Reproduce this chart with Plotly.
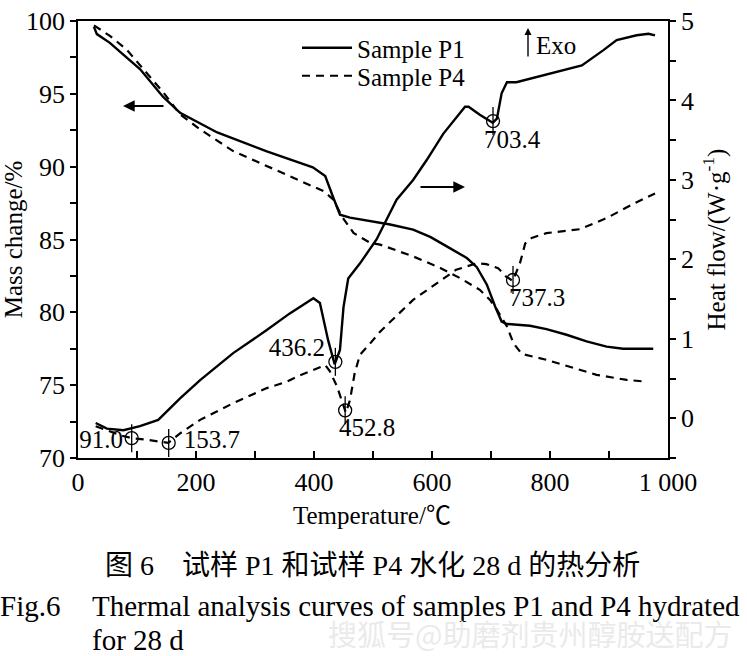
import plotly.graph_objects as go

# ---- data ----
t_p1_mass = [27, 32, 54, 105, 144, 173, 236, 320, 398, 419, 432, 444, 461, 512, 529, 568, 597, 625, 659, 676, 693, 707, 718, 727, 766, 794, 828, 862, 896, 924, 975]
mass_p1 = [99.6, 99.1, 98.5, 96.7, 94.8, 93.7, 92.35, 91.05, 89.95, 89.35, 87.95, 86.7, 86.5, 86.15, 86.03, 85.68, 85.18, 84.53, 83.73, 83.1, 81.9, 80.4, 79.37, 79.2, 79.08, 78.85, 78.46, 78.0, 77.65, 77.5, 77.5]

t_p4_mass = [27, 54, 82, 111, 145, 173, 207, 263, 320, 376, 416, 433, 447, 467, 495, 512, 568, 614, 647, 681, 698, 710, 727, 738, 752, 794, 840, 879, 930, 961]
mass_p4 = [99.7, 98.98, 98.06, 96.68, 95.08, 93.59, 92.56, 91.07, 90.03, 89.0, 88.32, 87.74, 86.6, 85.45, 84.77, 84.65, 83.84, 83.05, 82.36, 81.55, 80.87, 80.18, 79.03, 77.89, 77.15, 76.74, 76.17, 75.71, 75.36, 75.25]

t_p1_hf = [30, 49, 77, 105, 136, 173, 207, 263, 320, 359, 399, 410, 424, 435, 444, 450, 458, 478, 506, 540, 568, 591, 619, 656, 662, 681, 703, 710, 718, 727, 743, 799, 854, 890, 913, 947, 967, 978]
hf_p1 = [-0.06, -0.13, -0.15, -0.1, -0.02, 0.25, 0.48, 0.82, 1.11, 1.32, 1.51, 1.45, 0.98, 0.68, 0.86, 1.40, 1.76, 1.95, 2.25, 2.75, 3.0, 3.25, 3.58, 3.92, 3.92, 3.82, 3.72, 3.77, 4.09, 4.23, 4.23, 4.34, 4.44, 4.63, 4.76, 4.82, 4.84, 4.82]

t_p4_hf = [30, 55, 75, 91, 116, 153, 173, 207, 263, 320, 354, 376, 419, 427, 439, 454, 461, 469, 478, 495, 512, 568, 608, 641, 676, 692, 712, 726, 737, 749, 758, 769, 794, 851, 896, 947, 978]
hf_p4 = [-0.1, -0.17, -0.22, -0.25, -0.27, -0.31, -0.19, -0.02, 0.19, 0.38, 0.46, 0.54, 0.67, 0.59, 0.40, 0.07, 0.23, 0.57, 0.80, 0.94, 1.09, 1.49, 1.70, 1.87, 1.95, 1.94, 1.89, 1.78, 1.73, 1.95, 2.20, 2.27, 2.33, 2.38, 2.52, 2.72, 2.83]

peak_t = [91.0, 153.7, 436.2, 452.8, 703.4, 737.3]
peak_hf = [-0.25, -0.31, 0.71, 0.10, 3.74, 1.74]
peak_labels = ["91.0", "153.7", "436.2", "452.8", "703.4", "737.3"]
label_t = [39, 227, 371, 490, 736, 778]
label_hf = [-0.30, -0.30, 0.86, -0.14, 3.48, 1.49]

x_tickvals = [0, 200, 400, 600, 800, 1000]
x_ticktext = ["0", "200", "400", "600", "800", "1 000"]

FONT = "Liberation Serif, Noto Sans CJK SC, serif"
DASH = "8px,6px"

# plot-area geometry in pixels (used only to place paper-referenced text)
L, R, T, B = 78, 668, 21, 458
def px(xp):
    return (xp - L) / (R - L)
def py(yp):
    return (B - yp) / (B - T)

fig = go.Figure()
fig.add_trace(go.Scatter(x=t_p1_mass, y=mass_p1, mode="lines", name="Sample P1", legend="legend",
                         line=dict(color="black", width=2.4), yaxis="y"))
fig.add_trace(go.Scatter(x=t_p4_mass, y=mass_p4, mode="lines", name="Sample P4", legend="legend2",
                         line=dict(color="black", width=2.2, dash=DASH), yaxis="y"))
fig.add_trace(go.Scatter(x=t_p1_hf, y=hf_p1, mode="lines", showlegend=False,
                         line=dict(color="black", width=2.4), yaxis="y2"))
fig.add_trace(go.Scatter(x=t_p4_hf, y=hf_p4, mode="lines", showlegend=False,
                         line=dict(color="black", width=2.2, dash=DASH), yaxis="y2"))
fig.add_trace(go.Scatter(x=peak_t, y=peak_hf, mode="markers", showlegend=False, yaxis="y2",
                         marker=dict(symbol="circle-open", size=13, color="black", line=dict(width=1.3))))
fig.add_trace(go.Scatter(x=peak_t, y=peak_hf, mode="markers", showlegend=False, yaxis="y2",
                         marker=dict(symbol="line-ns-open", size=20, color="black", line=dict(width=1.3))))
fig.add_trace(go.Scatter(x=label_t, y=label_hf, mode="text", text=peak_labels, showlegend=False,
                         yaxis="y2", textfont=dict(family=FONT, size=25, color="black")))

ann = []
# direction arrows
ann.append(dict(xref="paper", yref="paper", x=px(123), y=py(106), ax=42, ay=0, text="",
                showarrow=True, arrowhead=2, arrowsize=1.3, arrowwidth=1.8, arrowcolor="black"))
ann.append(dict(xref="paper", yref="paper", x=px(465), y=py(187), ax=-46, ay=0, text="",
                showarrow=True, arrowhead=2, arrowsize=1.3, arrowwidth=1.8, arrowcolor="black"))
ann.append(dict(xref="paper", yref="paper", x=px(528), y=py(28), ax=0, ay=30, text="",
                showarrow=True, arrowhead=2, arrowsize=1.0, arrowwidth=1.4, arrowcolor="black"))
ann.append(dict(xref="paper", yref="paper", x=px(534), y=py(45), xanchor="left", yanchor="middle",
                text="Exo", showarrow=False, font=dict(family=FONT, size=25, color="black")))
# captions
ann.append(dict(xref="paper", yref="paper", x=px(372), y=py(515),
                xanchor="center", yanchor="middle", text="Temperature/℃", showarrow=False,
                font=dict(family=FONT, size=25, color="black")))
ann.append(dict(xref="paper", yref="paper", x=px(372), y=py(565),
                xanchor="center", yanchor="middle",
                text="图\u00a06\u3000试样\u00a0P1\u00a0和试样\u00a0P4\u00a0水化\u00a028\u00a0d\u00a0的热分析",
                showarrow=False, font=dict(family=FONT, size=28, color="black")))
ann.append(dict(xref="paper", yref="paper", x=px(-2), y=py(606),
                xanchor="left", yanchor="middle", text="Fig.6", showarrow=False,
                font=dict(family=FONT, size=29, color="black")))
ann.append(dict(xref="paper", yref="paper", x=px(90), y=py(606),
                xanchor="left", yanchor="middle",
                text="Thermal analysis curves of samples P1 and P4 hydrated", showarrow=False,
                font=dict(family=FONT, size=29, color="black")))
ann.append(dict(xref="paper", yref="paper", x=px(90), y=py(640),
                xanchor="left", yanchor="middle", text="for 28 d", showarrow=False,
                font=dict(family=FONT, size=29, color="black")))
ann.append(dict(xref="paper", yref="paper", x=px(530), y=py(633),
                xanchor="center", yanchor="middle", text="搜狐号@助磨剂贵州醇胺送配方", showarrow=False,
                font=dict(family="Noto Sans CJK SC", size=29, color="rgba(232,232,232,0.92)")))

legend_common = dict(xanchor="left", yanchor="middle", bgcolor="rgba(0,0,0,0)",
                     font=dict(family=FONT, size=25, color="black"), itemwidth=50)

fig.update_layout(
    width=747, height=656,
    margin=dict(l=L, r=747 - R, t=T, b=656 - B),
    paper_bgcolor="white", plot_bgcolor="white",
    font=dict(family=FONT, size=25, color="black"),
    showlegend=True,
    legend=dict(x=px(297), y=py(48), **legend_common),
    legend2=dict(x=px(297), y=py(76), **legend_common),
    xaxis=dict(range=[0, 1000], tickvals=x_tickvals, ticktext=x_ticktext, automargin=False,
               showline=True, linecolor="black", linewidth=1.8, mirror=True,
               ticks="inside", ticklen=7, tickwidth=1.5, tickcolor="black",
               minor=dict(dtick=100, ticks="inside", ticklen=7, tickwidth=1.5, tickcolor="black"),
               showgrid=False, zeroline=False, tickfont=dict(size=26)),
    yaxis=dict(range=[70, 100], dtick=5, tick0=70, automargin=False,
               showline=True, linecolor="black", linewidth=1.8,
               ticks="outside", ticklen=6, tickwidth=1.5, tickcolor="black",
               minor=dict(dtick=2.5, ticks="outside", ticklen=6, tickwidth=1.5, tickcolor="black"),
               showgrid=False, zeroline=False, tickfont=dict(size=26),
               title=dict(text="Mass change/%", standoff=4, font=dict(size=25))),
    yaxis2=dict(range=[-0.5, 5], dtick=1, tick0=0, overlaying="y", side="right", automargin=False,
                showline=True, linecolor="black", linewidth=1.8,
                ticks="outside", ticklen=6, tickwidth=1.5, tickcolor="black",
                minor=dict(dtick=0.5, ticks="outside", ticklen=6, tickwidth=1.5, tickcolor="black"),
                showgrid=False, zeroline=False, tickfont=dict(size=26),
                title=dict(text="Heat flow/(W·g<sup>-1</sup>)", standoff=14, font=dict(size=25))),
    annotations=ann,
)

fig.write_html("out.html", config={"displayModeBar": False},
               post_script="document.body.style.margin='0';document.body.style.padding='0';")
